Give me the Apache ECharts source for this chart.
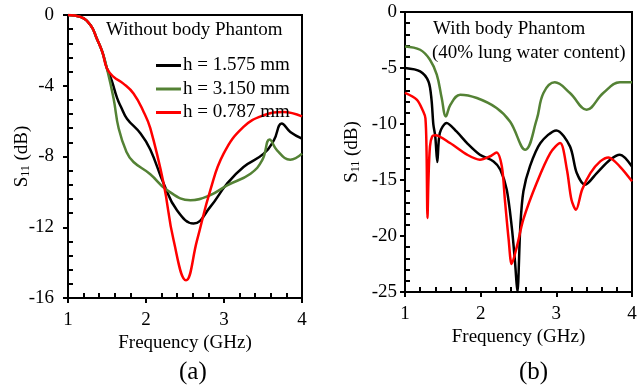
<!DOCTYPE html>
<html>
<head>
<meta charset="utf-8">
<script src="https://cdn.jsdelivr.net/npm/echarts@6/dist/echarts.min.js"></script>
<style>
html,body{margin:0;padding:0;background:#fff;}
#chart{width:643px;height:388px;}
</style>
</head>
<body>
<div id="chart"></div>
<script>
// ---- Panel (a): Without body Phantom ----
const seriesNamesA = ['h = 1.575 mm', 'h = 3.150 mm', 'h = 0.787 mm'];
const freqA_h1575 = [1.0, 1.16, 1.29, 1.37, 1.44, 1.5, 1.56, 1.63, 1.68, 1.756, 1.93, 2.055, 2.226, 2.397, 2.61, 2.824, 3.04, 3.25, 3.51, 3.64, 3.74, 3.85, 4.0];
const s11A_h1575 = [0, -0.11, -0.58, -1.34, -2.09, -3.03, -3.7, -4.7, -5.2, -5.86, -6.7, -7.6, -9.53, -11.04, -11.79, -10.85, -9.53, -8.59, -7.84, -7.08, -6.14, -6.61, -6.99];
const freqA_h3150 = [1.0, 1.16, 1.29, 1.37, 1.44, 1.5, 1.585, 1.65, 1.75, 1.84, 2.055, 2.27, 2.57, 2.82, 3.04, 3.34, 3.49, 3.585, 3.68, 3.85, 4.0];
const s11A_h3150 = [0, -0.11, -0.58, -1.34, -2.09, -3.03, -4.73, -6.42, -7.74, -8.31, -9.0, -9.9, -10.47, -10.19, -9.63, -8.97, -8.21, -7.04, -7.65, -8.18, -7.84];
const freqA_h0787 = [1.0, 1.16, 1.29, 1.37, 1.44, 1.5, 1.585, 1.71, 1.84, 1.97, 2.055, 2.226, 2.354, 2.513, 2.654, 2.824, 2.995, 3.25, 3.51, 3.76, 4.0];
const s11A_h0787 = [0, -0.11, -0.58, -1.34, -2.09, -3.03, -3.5, -3.88, -4.44, -5.48, -6.4, -9.53, -12.74, -15.0, -12.74, -9.91, -7.84, -6.33, -5.67, -5.48, -5.73];

// ---- Panel (b): With body Phantom (40% lung water content) ----
const freqB_h1575 = [1.0, 1.2, 1.31, 1.35, 1.375, 1.4, 1.427, 1.46, 1.55, 1.68, 1.82, 1.99, 2.17, 2.26, 2.345, 2.41, 2.455, 2.485, 2.525, 2.565, 2.65, 2.79, 3.0, 3.18, 3.27, 3.38, 3.535, 3.71, 3.84, 4.0];
const s11B_h1575 = [-5.0, -5.3, -6.2, -7.8, -10.06, -11.1, -13.4, -10.8, -9.91, -10.66, -11.7, -12.74, -13.34, -14.08, -15.87, -19.14, -22.4, -25, -19.0, -16.0, -13.8, -11.7, -10.57, -12.0, -14.38, -15.42, -14.38, -13.19, -12.74, -13.8];
const freqB_h3150 = [1.0, 1.2, 1.33, 1.42, 1.485, 1.54, 1.6, 1.73, 1.95, 2.21, 2.39, 2.59, 2.74, 2.83, 2.98, 3.18, 3.4, 3.62, 3.84, 4.0];
const s11B_h3150 = [-3.07, -3.37, -4.26, -5.6, -7.68, -9.32, -8.28, -7.38, -7.68, -8.57, -9.8, -12.3, -9.62, -7.23, -6.28, -7.23, -8.72, -7.23, -6.28, -6.28];
const freqB_h0787 = [1.0, 1.155, 1.24, 1.27, 1.285, 1.297, 1.31, 1.33, 1.36, 1.4, 1.595, 1.82, 1.99, 2.12, 2.21, 2.28, 2.32, 2.37, 2.41, 2.48, 2.565, 2.74, 2.92, 3.05, 3.14, 3.2, 3.26, 3.34, 3.45, 3.58, 3.69, 3.84, 4.0];
const s11B_h0787 = [-7.23, -7.83, -8.87, -9.5, -12.5, -18.4, -15.0, -12.0, -11.1, -11.0, -11.7, -12.74, -13.19, -12.9, -12.54, -13.8, -16.76, -20.33, -22.5, -20.9, -18.5, -15.27, -12.6, -11.7, -14.08, -16.76, -17.65, -15.87, -14.38, -13.34, -12.98, -13.8, -15.12];

const xTicks = [1, 2, 3, 4];
const yTicksA = [0, -4, -8, -12, -16];
const yTicksB = [0, -5, -10, -15, -20, -25];

const colors = ['#000000', '#548235', '#ff0000'];
const FONT = 'Liberation Serif';

function pairs(xs, ys) { return xs.map((x, i) => [x, ys[i]]); }

function xAxisCfg(gi) {
  return {
    gridIndex: gi, type: 'value', min: xTicks[0], max: xTicks[xTicks.length - 1], interval: 1,
    name: 'Frequency (GHz)', nameLocation: 'middle', nameGap: 36, nameMoveOverlap: false,
    nameTextStyle: { fontFamily: FONT, fontSize: 19, color: '#000' },
    axisLine: { show: true, onZero: false, lineStyle: { color: '#000', width: 2 } },
    axisTick: { show: true, inside: false, length: 5, lineStyle: { color: '#000', width: 2 } },
    minorTick: { show: true, splitNumber: 5, length: -5, lineStyle: { color: '#000', width: 2 } },
    axisLabel: { fontFamily: FONT, fontSize: 19, color: '#000', margin: 13 },
    splitLine: { show: false }
  };
}
function yAxisCfg(gi, ticks, gap, lmargin) {
  return {
    gridIndex: gi, type: 'value', min: ticks[ticks.length - 1], max: ticks[0], interval: ticks[0] - ticks[1],
    name: '{s|S}{sub|11}{s| (dB)}', nameLocation: 'middle', nameGap: gap, nameMoveOverlap: false,
    nameTextStyle: { fontFamily: FONT, fontSize: 19, color: '#000',
      rich: { s: { fontFamily: FONT, fontSize: 19, color: '#000' },
              sub: { fontFamily: FONT, fontSize: 12, color: '#000', verticalAlign: 'bottom', padding: [8, 0, 0, 0] } } },
    axisLine: { show: true, onZero: false, lineStyle: { color: '#000', width: 2 } },
    axisTick: { show: true, inside: false, length: 5, lineStyle: { color: '#000', width: 2 } },
    minorTick: { show: true, splitNumber: 5, length: -5, lineStyle: { color: '#000', width: 2 } },
    axisLabel: { fontFamily: FONT, fontSize: 19, color: '#000', margin: lmargin },
    splitLine: { show: false }
  };
}
function line(name, xs, ys, color, gi, sm) {
  return {
    name: name, type: 'line', xAxisIndex: gi, yAxisIndex: gi,
    data: pairs(xs, ys), symbol: 'none', showSymbol: false, smooth: sm,
    lineStyle: { color: color, width: 2.5 }, itemStyle: { color: color },
    clip: true, z: 3
  };
}

const chart = echarts.init(document.getElementById('chart'), null, { renderer: 'canvas' });
chart.setOption({
  animation: false,
  backgroundColor: '#fff',
  grid: [
    { left: 68, top: 15, width: 234, height: 283, show: true, borderColor: '#000', borderWidth: 2, backgroundColor: 'transparent' },
    { left: 405, top: 12, width: 227, height: 280, show: true, borderColor: '#000', borderWidth: 2, backgroundColor: 'transparent' }
  ],
  xAxis: [xAxisCfg(0), xAxisCfg(1)],
  yAxis: [yAxisCfg(0, yTicksA, 36, 14), yAxisCfg(1, yTicksB, 43, 8)],
  legend: {
    data: seriesNamesA.map(n => ({ name: n, icon: 'rect' })), orient: 'vertical', left: 151, top: 51,
    itemWidth: 25, itemHeight: 3, itemGap: 4.5,
    textStyle: { fontFamily: FONT, fontSize: 19, color: '#000', lineHeight: 19, padding: [0, 0, 0, -3] }
  },
  graphic: [
    { type: 'text', left: 106, top: 21, style: { text: 'Without body Phantom', font: '19px "Liberation Serif"', fill: '#000' } },
    { type: 'text', left: 433, top: 20, style: { text: 'With body Phantom', font: '19px "Liberation Serif"', fill: '#000' } },
    { type: 'text', left: 432, top: 44, style: { text: '(40% lung water content)', font: '19px "Liberation Serif"', fill: '#000' } },
    { type: 'text', left: 179, top: 360, style: { text: '(a)', font: '25px "Liberation Serif"', fill: '#000' } },
    { type: 'text', left: 519, top: 360, style: { text: '(b)', font: '25px "Liberation Serif"', fill: '#000' } }
  ],
  series: [
    line(seriesNamesA[0], freqA_h1575, s11A_h1575, colors[0], 0, 0.45),
    line(seriesNamesA[1], freqA_h3150, s11A_h3150, colors[1], 0, 0.45),
    line(seriesNamesA[2], freqA_h0787, s11A_h0787, colors[2], 0, 0.45),
    line('(b) ' + seriesNamesA[0], freqB_h1575, s11B_h1575, colors[0], 1, 0.3),
    line('(b) ' + seriesNamesA[1], freqB_h3150, s11B_h3150, colors[1], 1, 0.4),
    line('(b) ' + seriesNamesA[2], freqB_h0787, s11B_h0787, colors[2], 1, 0.3)
  ]
});
</script>
</body>
</html>
